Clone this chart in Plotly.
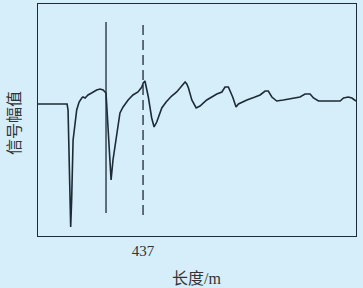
import plotly.graph_objects as go

# distance along cable (m) and signal amplitude (arbitrary units)
length_m = [0, 121, 125, 127, 129, 131, 136, 140, 146, 161, 171, 182, 187, 196, 202, 208, 223, 244, 258, 271, 283,
            287, 296, 304, 312, 328, 341, 354, 375, 395, 416, 432, 438, 445, 459, 473, 483, 494, 515, 533, 556,
            577, 598, 612, 619, 626, 640, 658, 674, 702, 744, 765, 778, 792, 810, 824, 834, 869, 903, 924, 945,
            958, 973, 993, 1021, 1049, 1077, 1090, 1111, 1132, 1146, 1167, 1215, 1257, 1271, 1291, 1306, 1323]
amplitude = [132, 132, 126, 105, 86, 53, 9, 36, 96, 126, 134, 138, 139, 138, 140, 141, 143, 146, 147, 146, 143,
             126, 86, 56, 76, 103, 123, 129, 136, 141, 144, 149, 153, 155, 139, 118, 109, 114, 128, 134, 140,
             144, 150, 154, 152, 148, 136, 128, 130, 136, 142, 144, 149, 149, 139, 129, 132, 136, 139, 141, 145,
             145, 139, 135, 136, 137, 138, 139, 142, 142, 138, 135, 135, 135, 138, 139, 138, 135]

solid_marker_x = [283, 283]
solid_marker_y = [23, 214]
dashed_marker_x = [437, 437]
dashed_marker_y = [21, 212]

tick_vals = [437]
tick_text = ["437"]

bg = "#d5eefa"
ink = "#1c2b36"
txt = "#333333"

fig = go.Figure()
fig.add_trace(go.Scatter(x=length_m, y=amplitude, mode="lines",
                         line=dict(color=ink, width=1.6), hoverinfo="skip"))
fig.add_trace(go.Scatter(x=solid_marker_x, y=solid_marker_y, mode="lines",
                         line=dict(color=ink, width=1.3), hoverinfo="skip"))
fig.add_trace(go.Scatter(x=dashed_marker_x, y=dashed_marker_y, mode="lines",
                         line=dict(color=ink, width=1.3, dash="10px,5px"), hoverinfo="skip"))

fig.update_layout(
    width=363, height=288,
    margin=dict(l=38, r=7, t=4, b=52),
    paper_bgcolor=bg, plot_bgcolor=bg,
    showlegend=False,
    xaxis=dict(range=[0, 1323], showgrid=False, zeroline=False,
               showline=True, mirror=True, linecolor=ink, linewidth=1,
               tickvals=tick_vals, ticktext=tick_text, ticks="", ticklabelstandoff=1,
               tickfont=dict(family="Liberation Serif", size=15, color=txt)),
    yaxis=dict(range=[0, 232], showgrid=False, zeroline=False,
               showline=True, mirror=True, linecolor=ink, linewidth=1,
               showticklabels=False, ticks=""),
    annotations=[
        dict(text="长度/m", xref="paper", yref="paper", x=0.497, y=-0.183,
             xanchor="center", yanchor="middle", showarrow=False,
             font=dict(family="Liberation Serif, Noto Sans CJK SC", size=16, color=txt)),
        dict(text="信号幅值", xref="paper", yref="paper", x=-0.079, y=0.487,
             xanchor="center", yanchor="middle", showarrow=False, textangle=-90,
             font=dict(family="Noto Sans CJK SC", size=16, color=txt)),
    ],
)

fig.write_html("out.html", config={"displayModeBar": False},
               post_script="document.body.style.margin='0px';document.body.style.background='%s';" % bg)
